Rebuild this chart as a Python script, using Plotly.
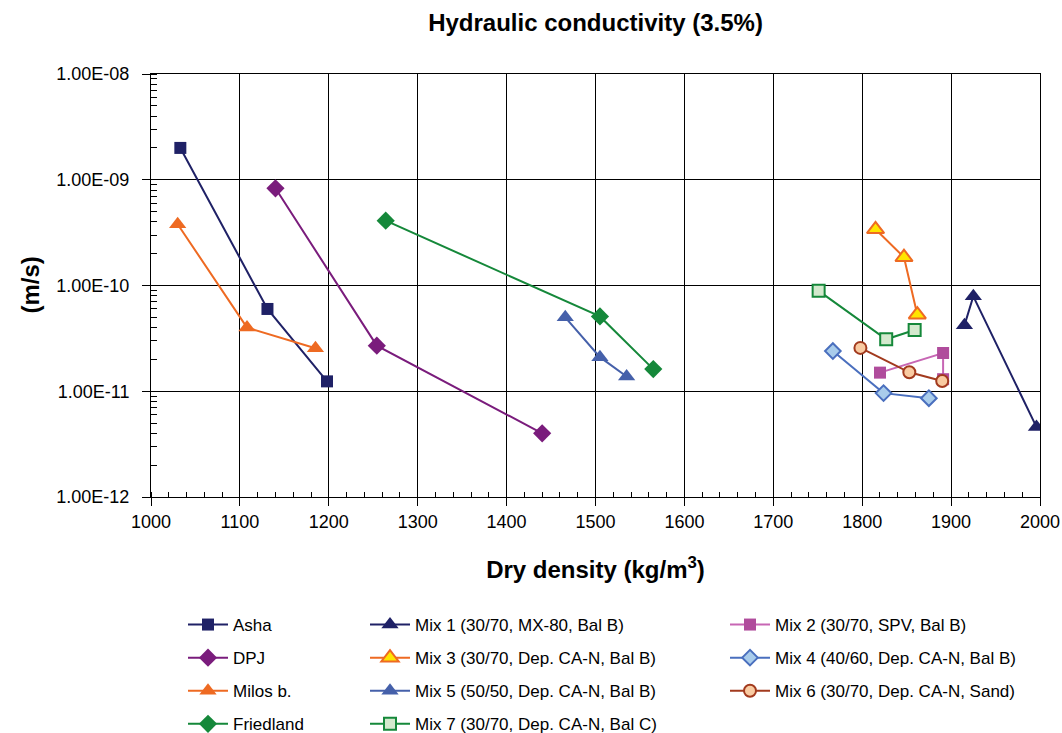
import plotly.graph_objects as go

# ---------------- data ----------------
asha_x = [1033, 1131, 1198]
asha_y = [2.0e-9, 6.0e-11, 1.24e-11]
dpj_x = [1140, 1254, 1440]
dpj_y = [8.3e-10, 2.7e-11, 4.0e-12]
milos_x = [1030, 1108, 1185]
milos_y = [3.8e-10, 4.0e-11, 2.55e-11]
fried_x = [1264, 1505, 1565]
fried_y = [4.1e-10, 5.1e-11, 1.62e-11]
mix1_x = [1915, 1925, 1996]
mix1_y = [4.2e-11, 7.9e-11, 4.6e-12]
mix2_x = [1820, 1891, 1891]
mix2_y = [1.5e-11, 2.3e-11, 1.3e-11]
mix3_x = [1815, 1847, 1862]
mix3_y = [3.4e-10, 1.85e-10, 5.3e-11]
mix4_x = [1767, 1824, 1875]
mix4_y = [2.4e-11, 9.6e-12, 8.6e-12]
mix5_x = [1466, 1505, 1535]
mix5_y = [5.0e-11, 2.1e-11, 1.38e-11]
mix6_x = [1798, 1853, 1890]
mix6_y = [2.57e-11, 1.51e-11, 1.25e-11]
mix7_x = [1751, 1827, 1859]
mix7_y = [8.9e-11, 3.1e-11, 3.8e-11]

y_tickvals = [1e-12, 1e-11, 1e-10, 1e-9, 1e-8]
y_ticktext = ["1.00E-12", "1.00E-11", "1.00E-10", "1.00E-09", "1.00E-08"]
x_tickvals = list(range(1000, 2001, 100))

FONT = "Liberation Sans, Arial, sans-serif"

series = [
    # name, x, y, legend, line color, symbol, fill, outline, size
    ("Asha", asha_x, asha_y, "legend", "#1F2166", "square", "#1F2166", "#1F2166", 12),
    ("DPJ", dpj_x, dpj_y, "legend", "#7A1C7C", "diamond", "#7A1C7C", "#7A1C7C", 14),
    ("Milos b.", milos_x, milos_y, "legend", "#EE6A22", "triangle-up", "#EE6A22", "#EE6A22", 15),
    ("Friedland", fried_x, fried_y, "legend", "#15883A", "diamond", "#15883A", "#15883A", 14),
    ("Mix 1 (30/70, MX-80, Bal B)", mix1_x, mix1_y, "legend2", "#1F2166", "triangle-up", "#1F2166", "#1F2166", 15),
    ("Mix 3 (30/70, Dep. CA-N, Bal B)", mix3_x, mix3_y, "legend2", "#EE6A22", "triangle-up", "#FFE500", "#EE6A22", 15),
    ("Mix 5 (50/50, Dep. CA-N, Bal B)", mix5_x, mix5_y, "legend2", "#4560AA", "triangle-up", "#4560AA", "#4560AA", 15),
    ("Mix 7 (30/70, Dep. CA-N, Bal C)", mix7_x, mix7_y, "legend2", "#15883A", "square", "#D3E9CD", "#15883A", 12),
    ("Mix 2 (30/70, SPV, Bal B)", mix2_x, mix2_y, "legend3", "#C766B4", "square", "#B04C9C", "#B04C9C", 12),
    ("Mix 4 (40/60, Dep. CA-N, Bal B)", mix4_x, mix4_y, "legend3", "#4A6FBE", "diamond", "#A9CCEB", "#4A6FBE", 12),
    ("Mix 6 (30/70, Dep. CA-N, Sand)", mix6_x, mix6_y, "legend3", "#A23A1E", "circle", "#F9CBA2", "#A23A1E", 12),
]

fig = go.Figure()
for i, (name, xs, ys, leg, lc, sym, fill, outl, size) in enumerate(series):
    fig.add_trace(go.Scatter(
        x=xs, y=ys, name=name, mode="lines+markers",
        line=dict(color=lc, width=2),
        marker=dict(symbol=sym, color=fill, size=size,
                    line=dict(color=outl, width=2 if fill != outl else 0)),
        legend=leg, legendgroup=f"g{i}",
    ))

W, H = 1062, 733
L, R, T, B = 151, 22, 74, 236

def leg(xpx, ypx):
    return dict(
        x=xpx / W, y=1 - ypx / H, xref="container", yref="container",
        xanchor="left", yanchor="top", bgcolor="rgba(0,0,0,0)",
        font=dict(family=FONT, size=17, color="black"),
        tracegroupgap=8, itemwidth=40, traceorder="grouped",
    )

fig.update_layout(
    width=W, height=H,
    margin=dict(l=L, r=R, t=T, b=B, autoexpand=False),
    paper_bgcolor="white", plot_bgcolor="white",
    font=dict(family=FONT, size=17, color="black"),
    title=dict(text="<b>Hydraulic conductivity (3.5%)</b>", x=0.5, xref="paper",
               xanchor="center", y=1 - 23 / H, yanchor="middle",
               font=dict(family=FONT, size=24, color="black")),
    legend=leg(183, 607),
    legend2=leg(365, 607),
    legend3=leg(725, 607),
    showlegend=True,
    annotations=[dict(
        text="<b>(m/s)</b>", textangle=-90, showarrow=False,
        xref="paper", yref="paper", x=(30 - L) / (W - L - R), y=0.5,
        xanchor="center", yanchor="middle",
        font=dict(family=FONT, size=24, color="black"),
    )],
)

fig.update_xaxes(
    range=[1000, 2000], tickvals=x_tickvals,
    showgrid=True, gridcolor="black", gridwidth=1,
    showline=True, linecolor="black", linewidth=1, mirror=True,
    ticks="outside", ticklen=8, tickcolor="black",
    minor=dict(ticks="inside", dtick=20, ticklen=5, tickcolor="black", showgrid=False),
    tickfont=dict(family=FONT, size=18),
    title=dict(text="<b>Dry density (kg/m<sup>3</sup>)</b>", standoff=30,
               font=dict(family=FONT, size=24)),
    zeroline=False, automargin=True,
)
fig.update_yaxes(
    type="log", range=[-12, -8], tickvals=y_tickvals, ticktext=y_ticktext,
    showgrid=True, gridcolor="black", gridwidth=1,
    showline=True, linecolor="black", linewidth=1, mirror=True,
    ticks="outside", ticklen=8, tickcolor="black",
    ticklabelposition="outside", ticklabelstandoff=9,
    minor=dict(ticks="inside", dtick="D1", ticklen=6, tickcolor="black", showgrid=False),
    tickfont=dict(family=FONT, size=18),
    zeroline=False, automargin=True,
)

fig.write_html("out.html")
